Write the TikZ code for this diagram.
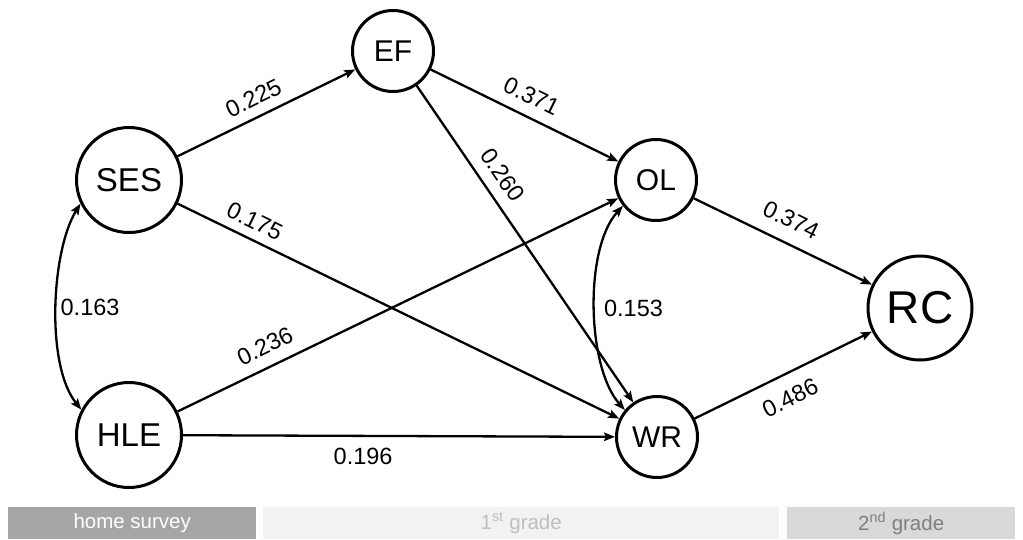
\documentclass[tikz,border=0pt]{standalone}
\usepackage{fontspec}
\setmainfont{Liberation Sans}
\usetikzlibrary{arrows.meta}
\definecolor{barA}{HTML}{A6A6A6}
\definecolor{barB}{HTML}{F2F2F2}
\definecolor{barC}{HTML}{D9D9D9}
\definecolor{txtB}{HTML}{BFBFBF}
\definecolor{txtC}{HTML}{7F7F7F}
\begin{document}
\begin{tikzpicture}[x=1pt,y=-1pt,
  var/.style={circle,draw=black,line width=3pt,inner sep=0pt,fill=white},
  bigvar/.style={var,minimum size=105pt,font=\fontsize{33}{33}\selectfont},
  smallvar/.style={var,minimum size=81pt,font=\fontsize{30}{30}\selectfont},
  rcvar/.style={var,minimum size=104pt,font=\fontsize{46}{46}\selectfont},
  path/.style={line width=2.3pt,-{Stealth[length=11pt,width=8.5pt,inset=2pt]}},
  cov/.style={line width=2.3pt,{Stealth[length=11pt,width=8.5pt,inset=2pt]}-{Stealth[length=11pt,width=8.5pt,inset=2pt]}},
  lbl/.style={font=\fontsize{23.5}{23.5}\selectfont,inner sep=0pt},
  bar/.style={rectangle,inner sep=0pt,minimum height=32pt,font=\fontsize{20.5}{20.5}\selectfont}
]
\useasboundingbox (0,0) rectangle (1023,539);

\node[bigvar] (SES) at (129,180) {SES};
\node[bigvar] (HLE) at (129,435) {HLE};
\node[smallvar] (EF) at (393,51) {EF};
\node[smallvar] (OL) at (656,180) {OL};
\node[smallvar] (WR) at (657,437) {WR};
\node[rcvar] (RC) at (920,308) {RC};

\draw[path] (SES) -- node[lbl,pos=0.474,sloped,above=9.5pt] (l225) {0.225} (EF);
\draw[path] (SES) -- node[lbl,pos=0.157,sloped,above=8.5pt] (l175) {0.175} (WR);
\draw[path] (HLE) -- node[lbl,pos=0.219,sloped,above=11.5pt] (l236) {0.236} (OL);
\draw[path] (HLE) -- node[lbl,pos=0.417,below=11.5pt] (l196) {0.196} (WR);
\draw[path] (EF) -- node[lbl,pos=0.49,sloped,above=11pt] (l371) {0.371} (OL);
\draw[path] (EF) -- node[lbl,pos=0.318,sloped,above=11pt] (l260) {0.260} (WR);
\draw[path] (OL) -- node[lbl,pos=0.49,sloped,above=13.5pt] (l374) {0.374} (RC);
\draw[path] (WR) -- node[lbl,pos=0.48,sloped,below=14pt] (l486) {0.486} (RC);

\draw[cov] (SES.206) .. controls +(-29,47) and +(-36,-45) .. node[lbl,pos=0.5,right=3pt] (l163) {0.163} (HLE.152);
\draw[cov] (OL.218) .. controls +(-39,43) and +(-38,-43) .. node[lbl,pos=0.5,right=8pt] (l153) {0.153} (WR.140);

\node[bar,fill=barA,text=white,minimum width=248pt,anchor=north west] (b1) at (8,507) {home survey};
\node[bar,fill=barB,text=txtB,minimum width=516pt,anchor=north west] (b2) at (263,507) {1\textsuperscript{st} grade};
\node[bar,fill=barC,text=txtC,minimum width=228pt,anchor=north west] (b3) at (787,507) {2\textsuperscript{nd} grade};
\end{tikzpicture}
\end{document}
